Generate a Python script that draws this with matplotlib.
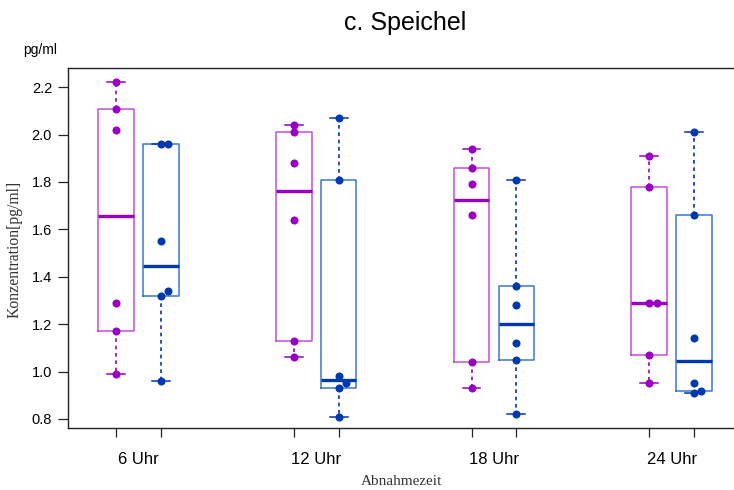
import numpy as np
import matplotlib
matplotlib.use("Agg")
import matplotlib.pyplot as plt

# Saliva concentrations (pg/ml) per sampling time, two groups
times = ["6 Uhr", "12 Uhr", "18 Uhr", "24 Uhr"]
group_a = [
    [2.22, 2.11, 2.02, 1.29, 1.17, 0.99],
    [2.04, 2.01, 1.88, 1.64, 1.13, 1.06],
    [1.94, 1.86, 1.79, 1.66, 1.04, 0.93],
    [1.91, 1.78, 1.29, 1.29, 1.07, 0.95],
]
group_b = [
    [1.96, 1.96, 1.55, 1.34, 1.32, 0.96],
    [2.07, 1.81, 0.98, 0.95, 0.93, 0.81],
    [1.81, 1.36, 1.28, 1.12, 1.05, 0.82],
    [2.01, 1.66, 1.14, 0.95, 0.92, 0.91],
]
y_ticks = [0.8, 1.0, 1.2, 1.4, 1.6, 1.8, 2.0, 2.2]

col_a_pt = "#9a00c4"
col_a_box = "#c24fd6"
col_b_pt = "#0038b0"
col_b_box = "#3a78cc"


def median(v):
    v = sorted(v)
    n = len(v)
    m = n // 2
    return v[m] if n % 2 else 0.5 * (v[m - 1] + v[m])


def hinge_stats(vals):
    """Tukey five-number summary (hinges), as used by R's boxplot."""
    v = sorted(vals)
    n = len(v)
    lower = v[: (n + 1) // 2]
    upper = v[n // 2:]
    q1, q3 = median(lower), median(upper)
    iqr = q3 - q1
    lo = min(x for x in v if x >= q1 - 1.5 * iqr)
    hi = max(x for x in v if x <= q3 + 1.5 * iqr)
    fl = [x for x in v if x < lo or x > hi]
    return dict(med=median(v), q1=q1, q3=q3, whislo=lo, whishi=hi, fliers=fl)


def swarm_offsets(vals, step, thresh=0.025):
    """Shift overlapping points sideways so they stay visible."""
    order = np.argsort(vals, kind="stable")
    placed = []
    offs = np.zeros(len(vals))
    for i in order:
        k = 0
        while True:
            cand = k * step
            if all(abs(vals[i] - pv) > thresh or po != cand for pv, po in placed):
                break
            k += 1
        offs[i] = cand
        placed.append((vals[i], cand))
    return offs


fig = plt.figure(figsize=(7.34, 4.90), dpi=100)
ax = fig.add_axes([68 / 734, 62 / 490, 1 - 68 / 734, 360 / 490])

centers = np.arange(1, len(times) + 1)
shift = 0.126
box_w = 0.2

for data, pos, pc, bc in [
    (group_a, centers - shift, col_a_pt, col_a_box),
    (group_b, centers + shift, col_b_pt, col_b_box),
]:
    stats = [hinge_stats(d) for d in data]
    ax.bxp(
        stats, positions=pos, widths=box_w, capwidths=0.1, showfliers=False,
        boxprops=dict(color=bc, lw=1.1),
        whiskerprops=dict(color=pc, lw=1.2, linestyle=(0, (2.2, 2.2))),
        capprops=dict(color=pc, lw=1.1),
        medianprops=dict(color=pc, lw=2.4, solid_capstyle="butt"),
        manage_ticks=False,
    )
    for d, p in zip(data, pos):
        d = np.asarray(d)
        xo = swarm_offsets(d, 0.041)
        ax.plot(p + xo, d, "o", color=pc, ms=5.8, mec="none", zorder=5)

ax.set_xlim(0.603, 4.351)
ax.set_ylim(0.762, 2.281)

ax.spines["right"].set_visible(False)
for s in ["top", "left", "bottom"]:
    ax.spines[s].set_linewidth(1.0)
    ax.spines[s].set_color("#222222")

ax.set_yticks(y_ticks)
ax.set_yticklabels([f"{t:.1f}" for t in y_ticks], fontsize=10.5,
                   family="Liberation Sans")
ax.tick_params(axis="y", length=7.5, width=0.9, pad=4, color="#222222")

box_pos = np.sort(np.concatenate([centers - shift, centers + shift]))
ax.set_xticks(box_pos)
ax.set_xticklabels([""] * len(box_pos))
ax.tick_params(axis="x", which="major", length=6.5, width=0.9, color="#222222")
ax.set_xticks(centers, minor=True)
ax.set_xticklabels(times, minor=True, fontsize=12, family="Liberation Sans")
ax.tick_params(axis="x", which="minor", length=0, pad=17)

fig.text(405 / 734, 1 - 23 / 490, "c. Speichel", ha="center", va="center",
         fontsize=18, family="Liberation Sans")
fig.text(23 / 734, 1 - 50 / 490, "pg/ml", ha="left", va="center",
         fontsize=10, family="Liberation Sans")
fig.text(15 / 734, 1 - 249 / 490, "Konzentration[pg/ml]", rotation=90,
         ha="center", va="center", fontsize=11.3, family="Liberation Serif",
         color="#333333")
fig.text(401 / 734, 1 - 481 / 490, "Abnahmezeit", ha="center", va="center",
         fontsize=11, family="Liberation Serif", color="#333333")

fig.savefig("out.png", dpi=100)
